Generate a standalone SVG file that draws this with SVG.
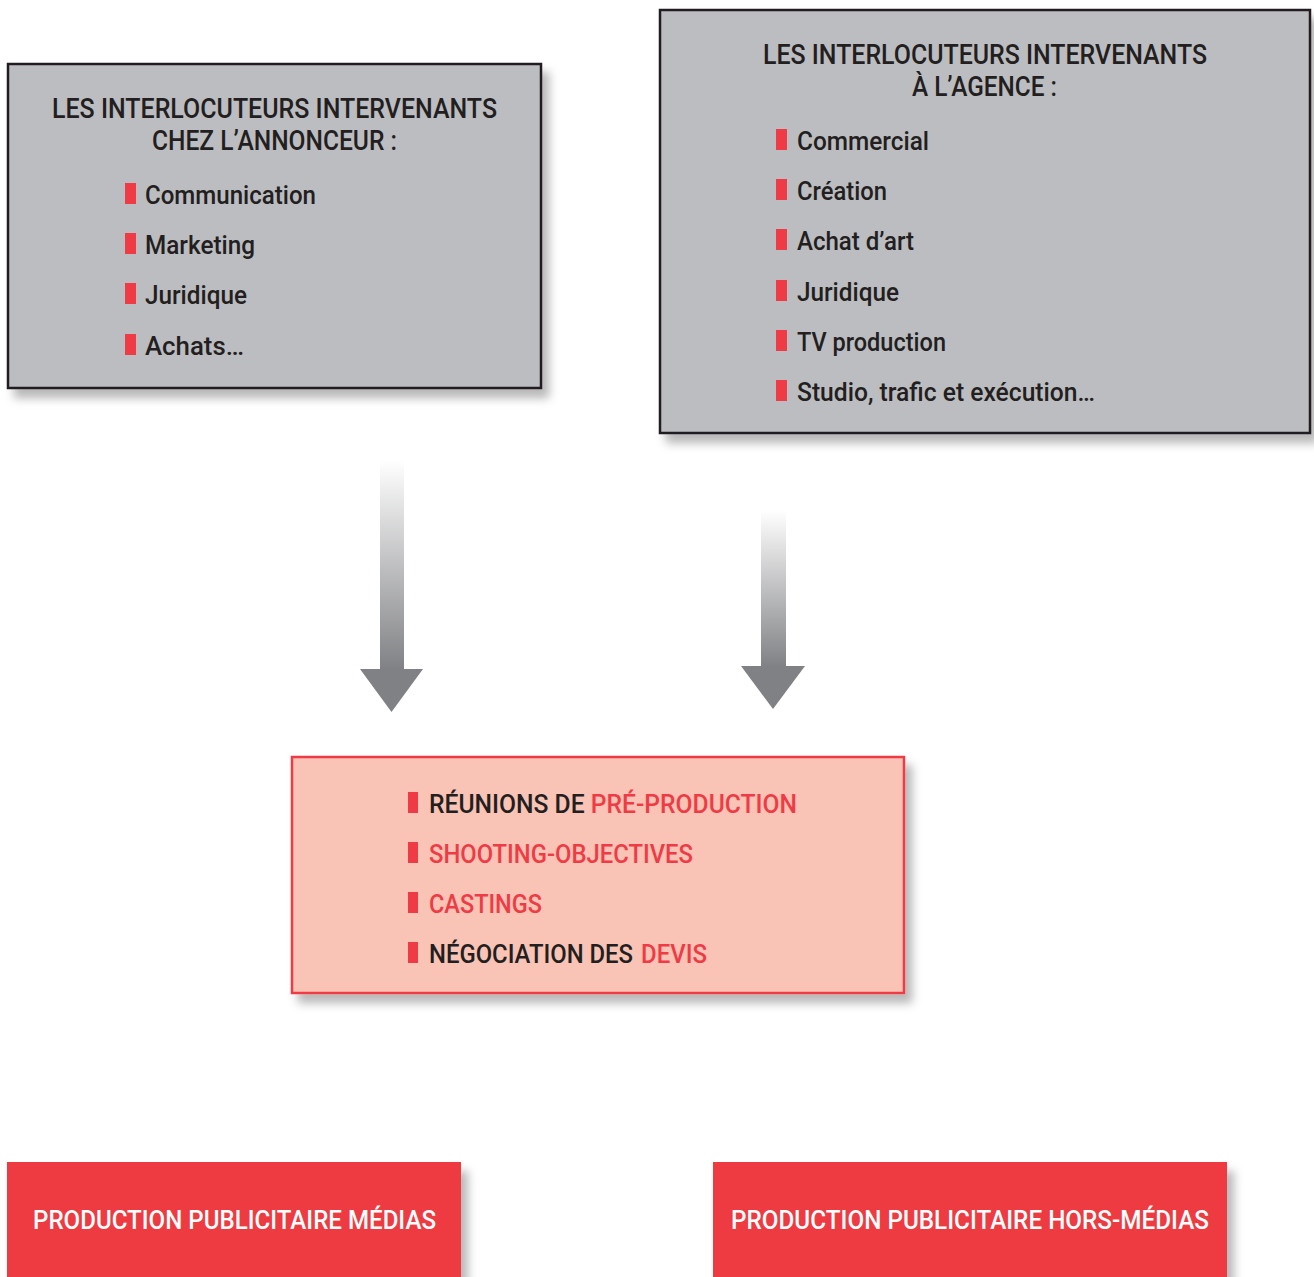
<svg xmlns="http://www.w3.org/2000/svg" width="1314" height="1277" viewBox="0 0 1314 1277">
  <defs>
    <filter id="shadow" x="-10%" y="-10%" width="125%" height="130%">
      <feDropShadow dx="7" dy="9" stdDeviation="5" flood-color="#000" flood-opacity="0.28"/>
    </filter>
    <linearGradient id="shaft1" x1="0" y1="460" x2="0" y2="670" gradientUnits="userSpaceOnUse">
      <stop offset="0" stop-color="#ffffff"/>
      <stop offset="1" stop-color="#808184"/>
    </linearGradient>
    <linearGradient id="shaft2" x1="0" y1="510" x2="0" y2="667" gradientUnits="userSpaceOnUse">
      <stop offset="0" stop-color="#ffffff"/>
      <stop offset="1" stop-color="#808184"/>
    </linearGradient>
    <style>
      .grey { fill: #bcbdc0; stroke: #231f20; stroke-width: 2.5; }
      .pink { fill: #f9c3b5; stroke: #ef3b45; stroke-width: 2.5; }
      .red { fill: #ee3b43; }
      .bullet { fill: #ef3b45; }
      text { font-family: Roboto, "Liberation Sans", sans-serif; font-weight: 500; }
      .title { font-size: 27px; fill: #231f20; }
      .item { font-size: 26px; fill: #231f20; }
      .dark { fill: #231f20; }
      .hl { fill: #ef3b45; }
      .white { font-size: 25px; fill: #ffffff; }
    </style>
  </defs>

  <!-- Connectors: gradient arrows -->
  <g id="connectors">
    <rect x="380" y="460" width="24" height="211" fill="url(#shaft1)"/>
    <polygon points="360,669 423,669 391.5,712" fill="#808184"/>
    <rect x="761" y="510" width="25" height="158" fill="url(#shaft2)"/>
    <polygon points="741,666 805,666 773,709" fill="#808184"/>
  </g>

  <!-- Advertiser side -->
  <g id="annonceur">
    <rect class="grey" x="8" y="64" width="533" height="324" filter="url(#shadow)"/>
    <text class="title" x="52" y="118" textLength="445" lengthAdjust="spacingAndGlyphs">LES INTERLOCUTEURS INTERVENANTS</text>
    <text class="title" x="152" y="150" textLength="245" lengthAdjust="spacingAndGlyphs">CHEZ L’ANNONCEUR :</text>
    <rect class="bullet" x="125" y="183" width="11" height="21"/>
    <text class="item" x="145" y="204" textLength="171" lengthAdjust="spacingAndGlyphs">Communication</text>
    <rect class="bullet" x="125" y="233" width="11" height="21"/>
    <text class="item" x="145" y="254" textLength="110" lengthAdjust="spacingAndGlyphs">Marketing</text>
    <rect class="bullet" x="125" y="283" width="11" height="21"/>
    <text class="item" x="145" y="304" textLength="102" lengthAdjust="spacingAndGlyphs">Juridique</text>
    <rect class="bullet" x="125" y="334" width="11" height="21"/>
    <text class="item" x="145" y="355" textLength="99" lengthAdjust="spacingAndGlyphs">Achats…</text>
  </g>

  <!-- Agency side -->
  <g id="agence">
    <rect class="grey" x="660" y="10" width="650" height="423" filter="url(#shadow)"/>
    <text class="title" x="763" y="64" textLength="444" lengthAdjust="spacingAndGlyphs">LES INTERLOCUTEURS INTERVENANTS</text>
    <text class="title" x="912" y="96" textLength="145" lengthAdjust="spacingAndGlyphs">À L’AGENCE :</text>
    <rect class="bullet" x="776" y="129" width="11" height="21"/>
    <text class="item" x="797" y="150" textLength="132" lengthAdjust="spacingAndGlyphs">Commercial</text>
    <rect class="bullet" x="776" y="179" width="11" height="21"/>
    <text class="item" x="797" y="200" textLength="90" lengthAdjust="spacingAndGlyphs">Création</text>
    <rect class="bullet" x="776" y="229" width="11" height="21"/>
    <text class="item" x="797" y="250" textLength="117" lengthAdjust="spacingAndGlyphs">Achat d’art</text>
    <rect class="bullet" x="776" y="280" width="11" height="21"/>
    <text class="item" x="797" y="301" textLength="102" lengthAdjust="spacingAndGlyphs">Juridique</text>
    <rect class="bullet" x="776" y="330" width="11" height="21"/>
    <text class="item" x="797" y="351" textLength="149" lengthAdjust="spacingAndGlyphs">TV production</text>
    <rect class="bullet" x="776" y="380" width="11" height="21"/>
    <text class="item" x="797" y="401" textLength="298" lengthAdjust="spacingAndGlyphs">Studio, trafic et exécution…</text>
  </g>

  <!-- Pre-production steps -->
  <g id="preproduction">
    <rect class="pink" x="292" y="757" width="612" height="236" filter="url(#shadow)"/>
    <rect class="bullet" x="408" y="792" width="10" height="21"/>
    <text class="item" x="429" y="813" textLength="368" lengthAdjust="spacingAndGlyphs"><tspan class="dark">RÉUNIONS DE </tspan><tspan class="hl">PRÉ-PRODUCTION</tspan></text>
    <rect class="bullet" x="408" y="842" width="10" height="21"/>
    <text class="item hl" x="429" y="863" textLength="264" lengthAdjust="spacingAndGlyphs">SHOOTING-OBJECTIVES</text>
    <rect class="bullet" x="408" y="892" width="10" height="21"/>
    <text class="item hl" x="429" y="913" textLength="113" lengthAdjust="spacingAndGlyphs">CASTINGS</text>
    <rect class="bullet" x="408" y="942" width="10" height="21"/>
    <!-- condensed line: horizontal scale keeps both words in their slots -->
    <g transform="translate(429,963) scale(0.9,1)">
      <text class="item dark" x="0" y="0" textLength="226.7" lengthAdjust="spacingAndGlyphs">NÉGOCIATION DES</text>
      <text class="item hl" x="235.6" y="0" textLength="73.3" lengthAdjust="spacingAndGlyphs">DEVIS</text>
    </g>
  </g>

  <!-- Media production -->
  <g id="medias">
    <rect class="red" x="7" y="1162" width="454" height="120" filter="url(#shadow)"/>
    <text class="white" x="33" y="1229" textLength="403" lengthAdjust="spacingAndGlyphs">PRODUCTION PUBLICITAIRE MÉDIAS</text>
  </g>

  <!-- Non-media production -->
  <g id="hors-medias">
    <rect class="red" x="713" y="1162" width="514" height="120" filter="url(#shadow)"/>
    <text class="white" x="731" y="1229" textLength="478" lengthAdjust="spacingAndGlyphs">PRODUCTION PUBLICITAIRE HORS-MÉDIAS</text>
  </g>
</svg>
